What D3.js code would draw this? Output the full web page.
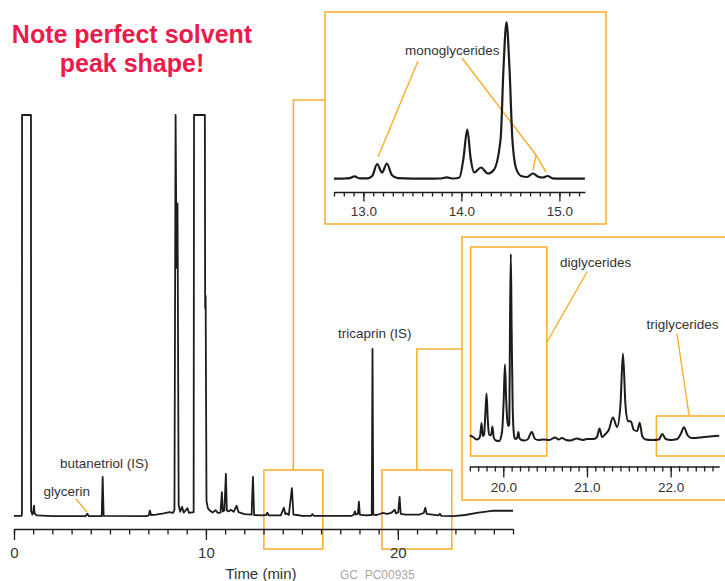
<!DOCTYPE html>
<html>
<head>
<meta charset="utf-8">
<script src="https://cdn.jsdelivr.net/npm/d3@7"></script>
<style>
    body { margin: 0; background: #fff; }
    svg { display: block; }
    text { font-family: "Liberation Sans", Arial, sans-serif; }
</style>
</head>
<body>
<div id="chart"></div>
<script>
// full run, signal as % of full scale (solvent peaks are clipped at 100)
const mainTrace = [
    [0, 0.3], [0.40, 0.3], [0.415, 1], [0.42, 100], [0.885, 100], [0.89, 1.5], [0.96, 0.6], [1.0, 1.2],
    [1.04, 2.8], [1.08, 0.8], [1.2, 0.4], [2.0, 0.2], [3.72, 0.2], [3.82, 0.8], [3.9, 0.2], [4.57, 0.2],
    [4.62, 10], [4.67, 0.3], [6.9, 0.2], [7.02, 0.4], [7.08, 1.6], [7.14, 0.5], [7.4, 0.6], [7.8, 0.9],
    [8.1, 1.2], [8.28, 1.0], [8.36, 1.8], [8.42, 100], [8.47, 62], [8.52, 78], [8.58, 3], [8.66, 1.3],
    [8.76, 2.5], [8.84, 1.1], [9.04, 2.2], [9.12, 1.0], [9.36, 1.2], [9.38, 100], [9.945, 100], [9.96, 52],
    [9.985, 55], [10.03, 4], [10.1, 2.2], [10.2, 1.6], [10.35, 1.1], [10.5, 1.7], [10.62, 1.0], [10.76, 1.1],
    [10.83, 6.2], [10.88, 1.4], [10.96, 1.6], [11.04, 10.7], [11.09, 1.6], [11.2, 1.4], [11.3, 1.8], [11.45, 1.3],
    [11.6, 2.8], [11.7, 1.2], [12.0, 0.7], [12.38, 0.6], [12.45, 10], [12.51, 0.5], [12.9, 0.4], [13.14, 0.5],
    [13.2, 1.1], [13.28, 0.4], [13.9, 0.4], [14.06, 2.3], [14.14, 0.7], [14.22, 0.9], [14.32, 0.5], [14.48, 7.2],
    [14.56, 0.6], [14.75, 0.5], [15.0, 0.3], [15.48, 0.3], [15.55, 0.7], [15.62, 0.3], [17.6, 0.3], [17.71, 0.6],
    [17.76, 1.4], [17.82, 0.6], [17.92, 0.8], [17.97, 3.8], [18.02, 0.6], [18.3, 0.4], [18.64, 0.5], [18.68, 41.8],
    [18.72, 0.6], [18.9, 0.5], [19.2, 1.0], [19.45, 0.8], [19.65, 1.0], [19.84, 1.8], [19.9, 0.9], [20.02, 1.2],
    [20.09, 5], [20.15, 0.8], [20.4, 0.6], [21.1, 0.6], [21.35, 1.0], [21.43, 2.3], [21.5, 0.8], [21.8, 0.6],
    [22.12, 0.4], [22.19, 0.8], [22.26, 0.3], [22.9, 0.2], [23.5, 0.5], [24.2, 1.1], [24.9, 1.55], [26.0, 1.55]
];

// zoom 12.7 - 15.3 min (monoglycerides)
const monoTrace = [
    [12.70, 0.4], [12.76, 0.3], [12.82, 0.6], [12.86, 0.9], [12.91, 2.6], [12.96, 0.6], [13.04, 0.6], [13.09, 3],
    [13.14, 15], [13.19, 6.5], [13.24, 15.5], [13.29, 4], [13.35, 0.8], [13.5, 0.4], [13.78, 0.5], [13.85, 1.6],
    [13.92, 0.5], [13.98, 1.5], [14.02, 20], [14.06, 49.5], [14.095, 20], [14.13, 6.5], [14.20, 11.5], [14.27, 5.5],
    [14.33, 9], [14.40, 40], [14.43, 112], [14.46, 157], [14.49, 112], [14.52, 40], [14.56, 10], [14.61, 3],
    [14.67, 2], [14.73, 5.5], [14.79, 2], [14.83, 1.5], [14.88, 3], [14.93, 0.6], [15.0, 0.3], [15.26, 0.3]
];

// zoom 19.6 - 22.6 min (di- and triglycerides)
const glyTrace = [
    [19.60, 4.5], [19.64, 3], [19.68, 0.5], [19.71, 1.5], [19.725, 5], [19.74, 17], [19.755, 4], [19.77, 5],
    [19.785, 25], [19.80, 46.5], [19.815, 20], [19.83, 5], [19.855, 5], [19.87, 13.5], [19.885, 3], [19.91, -0.5],
    [19.95, -1], [19.985, 8], [20.005, 40], [20.02, 75.5], [20.035, 40], [20.05, 18], [20.062, 14], [20.072, 16],
    [20.08, 110], [20.09, 186], [20.10, 110], [20.113, 30], [20.13, 4], [20.145, 1], [20.165, 2], [20.18, 8],
    [20.195, 1.5], [20.22, 0], [20.25, -0.5], [20.29, 0.5], [20.34, 8], [20.38, 1], [20.42, 0], [20.48, 0.5],
    [20.55, 0], [20.62, 2.5], [20.66, 0.5], [20.70, 2], [20.75, 0], [20.8, -0.5], [20.88, 1.5], [20.95, 0],
    [21.0, 1], [21.08, 1], [21.12, 3], [21.15, 11.5], [21.18, 3], [21.22, 6], [21.26, 10], [21.31, 22.5],
    [21.36, 13], [21.40, 35], [21.43, 86.5], [21.46, 35], [21.49, 19], [21.525, 18.5], [21.56, 10], [21.60, 9],
    [21.63, 17.3], [21.66, 4], [21.70, 0.5], [21.78, 0], [21.86, 0.5], [21.90, 6], [21.94, 1], [22.0, 0],
    [22.08, 1], [22.12, 6], [22.16, 12.7], [22.20, 5], [22.25, 2], [22.4, 3], [22.58, 4.3]
];

const mainTicks = d3.range(0, 27);
const mainMajor = [0, 10, 20];
const monoTicks = d3.range(127, 153).map(d => d / 10);
const monoMajor = [13, 14, 15];
const glyTicks = d3.range(196, 226).map(d => d / 10);
const glyMajor = [20, 21, 22];

// time windows that are blown up in the insets
const zoomWindows = [[13.02, 16.09], [19.17, 22.81]];
const diWindow = [19.61, 20.52];
const triWindow = [21.83, 22.72];

const W = 725, H = 581;
const orange = "#f8b133";
const ink = "#1c1c1c";
const textCol = "#333";

const svg = d3.select("#chart").append("svg")
    .attr("width", W)
    .attr("height", H);

// scales
const x = d3.scaleLinear().domain([0, 26]).range([14, 513]);
const y = d3.scaleLinear().domain([0, 100]).range([517, 115]);

const xMono = d3.scaleLinear().domain([12.7, 15.26]).range([334, 584.9]);
const yMono = d3.scaleLinear().domain([0, 160]).range([179, 19]);

const xGly = d3.scaleLinear().domain([19.6, 22.58]).range([469.8, 719.2]);
const yGly = d3.scaleLinear().domain([0, 190]).range([440, 250]);

function drawAxis(scale, yPos, ticks, major, fmt, minorLen, majorLen, labelY, fontSize) {
    let g = svg.append("g").attr("transform", `translate(0, ${yPos})`);

    let minor = g.append("g")
        .call(d3.axisBottom(scale).tickValues(ticks).tickSize(minorLen).tickSizeOuter(0).tickFormat(""));
    minor.select(".domain").attr("stroke", ink).attr("stroke-width", 1.6);
    minor.selectAll(".tick line").attr("stroke", ink).attr("stroke-width", 1.3);

    let maj = g.append("g")
        .call(d3.axisBottom(scale).tickValues(major).tickSize(majorLen).tickSizeOuter(0).tickFormat(fmt));
    maj.select(".domain").remove();
    maj.selectAll(".tick line").attr("stroke", ink).attr("stroke-width", 1.3);
    maj.selectAll(".tick text")
        .attr("y", labelY)
        .attr("dy", null)
        .attr("fill", textCol)
        .style("font-family", '"Liberation Sans", Arial, sans-serif')
        .style("font-size", fontSize + "px");
}

// orange zoom boxes and connectors
const boxes = svg.append("g")
    .attr("fill", "none")
    .attr("stroke", orange)
    .attr("stroke-width", 1.6);

zoomWindows.forEach(w => {
    boxes.append("rect")
        .attr("x", x(w[0])).attr("y", 470)
        .attr("width", x(w[1]) - x(w[0])).attr("height", 79);
});

boxes.append("path")
    .attr("d", `M${(x(zoomWindows[0][0]) + x(zoomWindows[0][1])) / 2},470V100H325`);
boxes.append("path")
    .attr("d", `M${(x(zoomWindows[1][0]) + x(zoomWindows[1][1])) / 2},470V349H462`);

// inset frames
boxes.append("rect").attr("x", 325).attr("y", 12).attr("width", 281).attr("height", 212);
boxes.append("rect").attr("x", 462).attr("y", 237).attr("width", 280).attr("height", 263);

boxes.append("rect")
    .attr("x", xGly(diWindow[0])).attr("y", 247)
    .attr("width", xGly(diWindow[1]) - xGly(diWindow[0])).attr("height", 209);
boxes.append("rect")
    .attr("x", xGly(triWindow[0])).attr("y", 416)
    .attr("width", xGly(triWindow[1]) - xGly(triWindow[0])).attr("height", 40);

// leader lines
const leaders = [
    [[76, 499], [87, 512]],
    [[418, 61], [378, 157]],
    [[462, 58], [536, 155], [546, 172]],
    [[536, 155], [533, 170]],
    [[587, 272], [547, 342]],
    [[677, 334], [689, 415]]
];
svg.append("g").selectAll("path")
    .data(leaders)
    .enter()
    .append("path")
    .attr("d", d => d3.line()(d))
    .attr("fill", "none")
    .attr("stroke", orange)
    .attr("stroke-width", 1.5);

// traces
const mainLine = d3.line().x(d => x(d[0])).y(d => y(d[1]));
const monoLine = d3.line().x(d => xMono(d[0])).y(d => yMono(d[1])).curve(d3.curveMonotoneX);
const glyLine = d3.line().x(d => xGly(d[0])).y(d => yGly(d[1])).curve(d3.curveMonotoneX);

svg.append("path")
    .attr("d", mainLine(mainTrace))
    .attr("fill", "none")
    .attr("stroke", ink)
    .attr("stroke-width", 1.8)
    .attr("stroke-linejoin", "round");

svg.append("path")
    .attr("d", monoLine(monoTrace))
    .attr("fill", "none")
    .attr("stroke", ink)
    .attr("stroke-width", 2.2);

svg.append("path")
    .attr("d", glyLine(glyTrace))
    .attr("fill", "none")
    .attr("stroke", ink)
    .attr("stroke-width", 2)
    .attr("stroke-linejoin", "round");

// axes
drawAxis(x, 529, mainTicks, mainMajor, d3.format("d"), 5.5, 11, 29, 15);
drawAxis(xMono, 192, monoTicks, monoMajor, d3.format(".1f"), 4.5, 9.5, 24, 13.5);
drawAxis(xGly, 466.5, glyTicks, glyMajor, d3.format(".1f"), 5, 11, 25.5, 13.5);

// labels
const labels = [
    {text: "glycerin", x: 43.5, y: 496},
    {text: "butanetriol (IS)", x: 60, y: 468},
    {text: "tricaprin (IS)", x: 338, y: 338},
    {text: "monoglycerides", x: 405, y: 55},
    {text: "diglycerides", x: 560, y: 267},
    {text: "triglycerides", x: 646.5, y: 329}
];
svg.append("g").selectAll("text")
    .data(labels)
    .enter()
    .append("text")
    .attr("x", d => d.x)
    .attr("y", d => d.y)
    .attr("fill", textCol)
    .style("font-size", "13.5px")
    .text(d => d.text);

svg.append("text")
    .attr("x", 261)
    .attr("y", 579)
    .attr("text-anchor", "middle")
    .attr("fill", textCol)
    .style("font-size", "15px")
    .text("Time (min)");

svg.append("text")
    .attr("x", 340)
    .attr("y", 579)
    .attr("fill", "#a8a8a8")
    .style("font-size", "12px")
    .style("white-space", "pre")
    .text("GC  PC00935");

// headline
const headline = ["Note perfect solvent", "peak shape!"];
svg.append("g").selectAll("text")
    .data(headline)
    .enter()
    .append("text")
    .attr("x", 132)
    .attr("y", (d, i) => 43 + i * 29)
    .attr("text-anchor", "middle")
    .attr("fill", "#ec1b4b")
    .style("font-size", "25px")
    .style("font-weight", "bold")
    .text(d => d);
</script>
</body>
</html>
